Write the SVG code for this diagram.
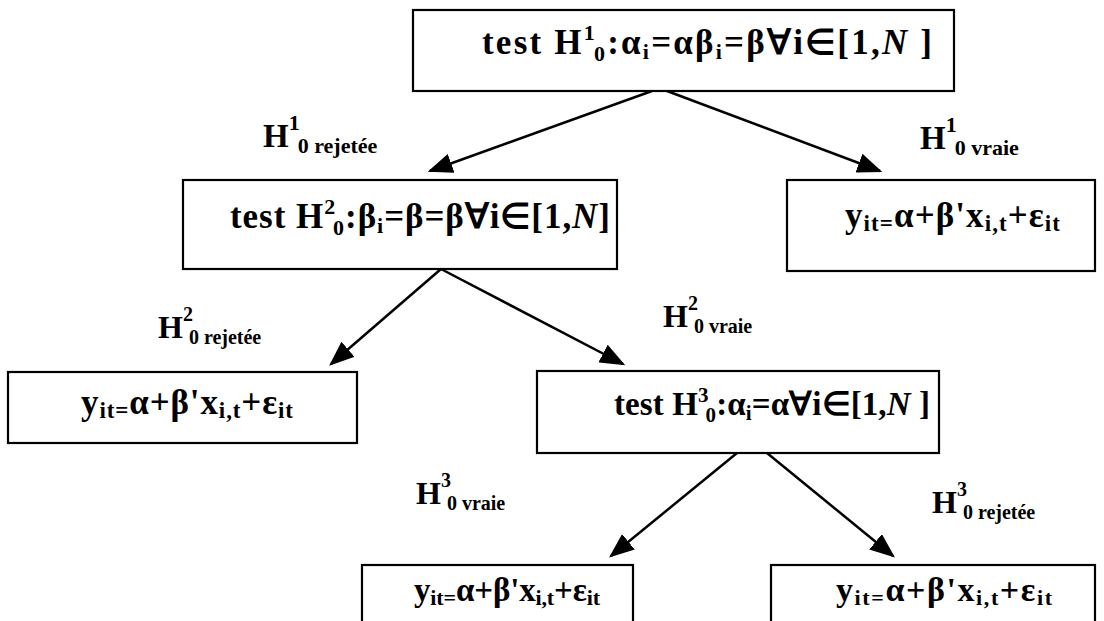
<svg xmlns="http://www.w3.org/2000/svg" width="1104" height="621" viewBox="0 0 1104 621">
<defs>
<style>
.box{fill:#fff;stroke:#000;stroke-width:2.2}
.conn line{stroke:#000;stroke-width:2.5}
</style>
<marker id="ah" markerWidth="10" markerHeight="8" refX="9" refY="4" orient="auto" markerUnits="strokeWidth">
<path d="M0,0 L10,4 L0,8 Z" fill="#000"/>
</marker>
</defs>
<rect width="1104" height="621" fill="#fff"/>

<g id="connectors" class="conn">
<line x1="652" y1="91" x2="430" y2="171" marker-end="url(#ah)"/>
<line x1="667" y1="91" x2="880" y2="171" marker-end="url(#ah)"/>
<line x1="441" y1="269" x2="331" y2="364" marker-end="url(#ah)"/>
<line x1="441" y1="269" x2="623" y2="364" marker-end="url(#ah)"/>
<line x1="737" y1="453" x2="611" y2="556" marker-end="url(#ah)"/>
<line x1="767" y1="453" x2="893" y2="556" marker-end="url(#ah)"/>
</g>

<g id="n1">
<rect class="box" x="413" y="10" width="541" height="81"/>
<text style="font-family:'Liberation Serif',serif;font-weight:bold;font-size:35px" x="482" y="54" textLength="450" lengthAdjust="spacing">test H<tspan font-size="22" dy="-14">1</tspan><tspan font-size="22" dx="-3" dy="21">0</tspan><tspan dy="-7">:α</tspan><tspan font-size="22" dy="5">i</tspan><tspan dy="-5">=αβ</tspan><tspan font-size="22" dy="5">i</tspan><tspan dy="-5">=β∀i∈[1,</tspan><tspan font-style="italic">N</tspan> ]</text>
</g>

<g id="n2">
<rect class="box" x="183" y="180" width="434" height="89"/>
<text style="font-family:'Liberation Serif',serif;font-weight:bold;font-size:35px" x="230" y="228" textLength="380" lengthAdjust="spacing">test H<tspan font-size="22" dy="-14">2</tspan><tspan font-size="22" dx="-3" dy="21">0</tspan><tspan dy="-7">:β</tspan><tspan font-size="22" dy="5">i</tspan><tspan dy="-5">=β=β∀i∈[1,</tspan><tspan font-style="italic">N</tspan>]</text>
</g>

<g id="n3">
<rect class="box" x="787" y="180" width="308" height="91"/>
<text style="font-family:'Liberation Serif',serif;font-weight:bold;font-size:35px" x="845" y="227" textLength="215" lengthAdjust="spacing">y<tspan font-size="23" dy="4">it=</tspan><tspan dy="-4">α+β'x</tspan><tspan font-size="23" dy="4">i,t</tspan><tspan dy="-4">+ε</tspan><tspan font-size="23" dy="4">it</tspan></text>
</g>

<g id="n4">
<rect class="box" x="8" y="372" width="349" height="71"/>
<text style="font-family:'Liberation Serif',serif;font-weight:bold;font-size:35px" x="81" y="414" textLength="212" lengthAdjust="spacing">y<tspan font-size="23" dy="4">it=</tspan><tspan dy="-4">α+β'x</tspan><tspan font-size="23" dy="4">i,t</tspan><tspan dy="-4">+ε</tspan><tspan font-size="23" dy="4">it</tspan></text>
</g>

<g id="n5">
<rect class="box" x="537" y="371" width="402" height="82"/>
<text style="font-family:'Liberation Serif',serif;font-weight:bold;font-size:33px" x="614" y="415" textLength="316" lengthAdjust="spacing">test H<tspan font-size="21" dy="-13">3</tspan><tspan font-size="21" dx="-3" dy="20">0</tspan><tspan dy="-7">:α</tspan><tspan font-size="21" dy="5">i</tspan><tspan dy="-5">=α∀i∈[1,</tspan><tspan font-style="italic">N</tspan> ]</text>
</g>

<g id="n6">
<rect class="box" x="362" y="565" width="271" height="60"/>
<text style="font-family:'Liberation Serif',serif;font-weight:bold;font-size:33px" x="414" y="601" textLength="186" lengthAdjust="spacing">y<tspan font-size="22" dy="4">it=</tspan><tspan dy="-4">α+β'x</tspan><tspan font-size="22" dy="4">i,t</tspan><tspan dy="-4">+ε</tspan><tspan font-size="22" dy="4">it</tspan></text>
</g>

<g id="n7">
<rect class="box" x="771" y="565" width="324" height="60"/>
<text style="font-family:'Liberation Serif',serif;font-weight:bold;font-size:34px" x="836" y="601" textLength="216" lengthAdjust="spacing">y<tspan font-size="22" dy="4">it=</tspan><tspan dy="-4">α+β'x</tspan><tspan font-size="22" dy="4">i,t</tspan><tspan dy="-4">+ε</tspan><tspan font-size="22" dy="4">it</tspan></text>
</g>

<g id="labels">
<text style="font-family:'Liberation Serif',serif;font-weight:bold;font-size:33px" x="263" y="147">H<tspan font-size="22" dy="-17">1</tspan><tspan font-size="22" dx="-2" dy="23">0 rejetée</tspan></text>
<text style="font-family:'Liberation Serif',serif;font-weight:bold;font-size:33px" x="920" y="149">H<tspan font-size="22" dy="-17">1</tspan><tspan font-size="22" dx="-2" dy="23">0 vraie</tspan></text>
<text style="font-family:'Liberation Serif',serif;font-weight:bold;font-size:32px" x="158" y="338">H<tspan font-size="20" dy="-17">2</tspan><tspan font-size="20" dx="-4" dy="23">0 rejetée</tspan></text>
<text style="font-family:'Liberation Serif',serif;font-weight:bold;font-size:32px" x="663" y="327">H<tspan font-size="20" dy="-17">2</tspan><tspan font-size="20" dx="-4" dy="23">0 vraie</tspan></text>
<text style="font-family:'Liberation Serif',serif;font-weight:bold;font-size:32px" x="416" y="504">H<tspan font-size="20" dy="-17">3</tspan><tspan font-size="20" dx="-4" dy="23">0 vraie</tspan></text>
<text style="font-family:'Liberation Serif',serif;font-weight:bold;font-size:32px" x="932" y="513">H<tspan font-size="20" dy="-17">3</tspan><tspan font-size="20" dx="-4" dy="23">0 rejetée</tspan></text>
</g>
</svg>
